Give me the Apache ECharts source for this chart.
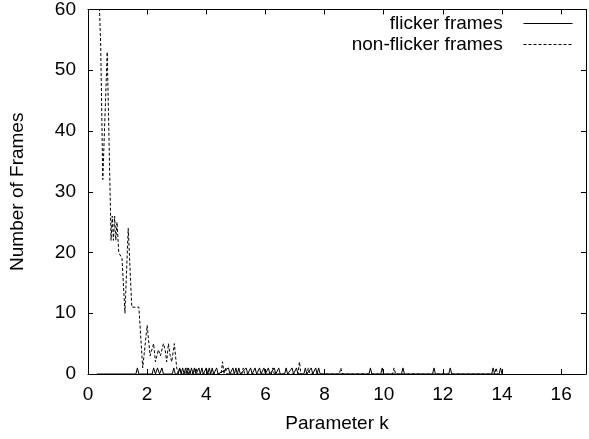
<!DOCTYPE html>
<html>
<head>
<meta charset="utf-8">
<script src="https://cdn.jsdelivr.net/npm/echarts@6/dist/echarts.min.js"></script>
<style>
    html, body { margin: 0; padding: 0; background: #fff; }
    #main { width: 589px; height: 439px; }
</style>
</head>
<body>
<div id="main"></div>
<script>
    // [k, number of frames]
    var nonFlicker = [
        [0.35, 66], [0.43, 54], [0.50, 32], [0.65, 53], [0.78, 22], [0.82, 26], [0.86, 22],
        [0.90, 26], [0.94, 22], [0.98, 25], [1.04, 20], [1.15, 19], [1.25, 10], [1.36, 24],
        [1.48, 11], [1.72, 11], [1.85, 1], [2.00, 8], [2.10, 3], [2.22, 5], [2.28, 2],
        [2.38, 4], [2.45, 3], [2.55, 5], [2.61, 4], [2.66, 2], [2.72, 5], [2.78, 3],
        [2.83, 2], [2.92, 5], [3.00, 1], [3.05, 0], [3.10, 1], [3.15, 0], [3.30, 0],
        [3.35, 1], [3.40, 0], [3.60, 0], [3.65, 1], [3.70, 0], [4.50, 0], [4.55, 2],
        [4.60, 0], [4.65, 1], [4.70, 0], [5.20, 0], [5.25, 1], [5.30, 0], [6.20, 0],
        [6.25, 1], [6.30, 0], [7.10, 0], [7.15, 2], [7.20, 0], [7.40, 0], [7.45, 1],
        [7.50, 0], [8.50, 0], [8.55, 1], [8.60, 0], [10.30, 0], [10.35, 1], [10.40, 0],
        [13.75, 0], [13.80, 1], [13.85, 0]
    ];
    var flicker = [
        [0.30, 0], [1.62, 0], [1.67, 1], [1.72, 0], [2.17, 0], [2.22, 1], [2.28, 0],
        [2.35, 1], [2.42, 0], [2.50, 1], [2.55, 0], [2.85, 0], [2.90, 1], [2.95, 0],
        [3.05, 0], [3.10, 1], [3.15, 0], [3.20, 1], [3.25, 0], [3.30, 1], [3.35, 0],
        [3.40, 1], [3.45, 0], [3.50, 1], [3.55, 0], [3.60, 1], [3.65, 0], [3.75, 1],
        [3.80, 0], [3.85, 1], [3.90, 0], [4.00, 1], [4.05, 0], [4.10, 1], [4.15, 0],
        [4.20, 1], [4.25, 0], [4.35, 1], [4.40, 0], [4.75, 1], [4.80, 0], [4.90, 1],
        [4.95, 0], [5.00, 1], [5.05, 0], [5.10, 1], [5.15, 0], [5.35, 1], [5.40, 0],
        [5.50, 1], [5.55, 0], [5.65, 1], [5.70, 0], [5.80, 1], [5.85, 0], [5.95, 1],
        [6.00, 0], [6.10, 1], [6.15, 0], [6.30, 1], [6.35, 0], [6.45, 1], [6.50, 0],
        [6.65, 0], [6.70, 1], [6.75, 0], [6.90, 1], [6.95, 0], [7.05, 1], [7.10, 0],
        [7.30, 0], [7.35, 1], [7.40, 0], [7.55, 1], [7.60, 0], [7.70, 1], [7.75, 0],
        [7.80, 1], [7.85, 0], [9.50, 0], [9.55, 1], [9.60, 0], [9.90, 0], [9.95, 1],
        [10.00, 0], [10.60, 0], [10.65, 1], [10.70, 0], [11.65, 0], [11.70, 1], [11.75, 0],
        [12.20, 0], [12.25, 1], [12.30, 0], [13.65, 0], [13.70, 1], [13.75, 0], [13.90, 0],
        [13.95, 1], [14.00, 0]
    ];
    var seriesNames = ['flicker frames', 'non-flicker frames'];
    var xRange = [0, 16.84];
    var yRange = [0, 60];

    var font = 'Liberation Sans, Arial, Helvetica, sans-serif';
    var chart = echarts.init(document.getElementById('main'));

    function xAxisBase(pos) {
        return {
            type: 'value',
            position: pos,
            min: xRange[0],
            max: xRange[1],
            interval: 2,
            splitLine: { show: false },
            axisLine: { show: true, onZero: false, lineStyle: { color: '#000', width: 1 } },
            axisTick: { show: true, inside: true, length: 5, lineStyle: { color: '#000' } },
            axisLabel: {
                show: pos === 'bottom',
                color: '#000', fontFamily: font, fontSize: 19, margin: 11,
                formatter: function (v) { return v % 2 === 0 ? String(v) : ''; }
            }
        };
    }
    function yAxisBase(pos) {
        return {
            type: 'value',
            position: pos,
            min: yRange[0],
            max: yRange[1],
            interval: 10,
            splitLine: { show: false },
            axisLine: { show: true, onZero: false, lineStyle: { color: '#000', width: 1 } },
            axisTick: { show: true, inside: true, length: 5, lineStyle: { color: '#000' } },
            axisLabel: { show: pos === 'left', color: '#000', fontFamily: font, fontSize: 19, margin: 12 }
        };
    }

    var xBottom = xAxisBase('bottom');
    xBottom.name = 'Parameter k';
    xBottom.nameLocation = 'middle';
    xBottom.nameGap = 40;
    xBottom.nameTextStyle = { color: '#000', fontFamily: font, fontSize: 19 };

    var yLeft = yAxisBase('left');
    yLeft.name = 'Number of Frames';
    yLeft.nameLocation = 'middle';
    yLeft.nameGap = 61;
    yLeft.nameTextStyle = { color: '#000', fontFamily: font, fontSize: 19 };

    function legendFor(name, top) {
        return {
            data: [name], right: 11, top: top, align: 'right',
            itemWidth: 49, itemHeight: 10,
            itemStyle: { opacity: 0 },
            lineStyle: { width: 1 },
            formatter: function (n) { return n + '\u00a0\u00a0\u00a0'; },
            textStyle: { color: '#000', fontFamily: font, fontSize: 19 }
        };
    }

    var option = {
        animation: false,
        backgroundColor: '#fff',
        grid: { left: 88, right: 1, top: 8, bottom: 65 },
        legend: [legendFor(seriesNames[0], 9), legendFor(seriesNames[1], 30)],
        xAxis: [xBottom, xAxisBase('top')],
        yAxis: [yLeft, yAxisBase('right')],
        series: [
            {
                name: seriesNames[0],
                type: 'line',
                data: flicker,
                symbol: 'none',
                itemStyle: { color: '#000' },
                lineStyle: { color: '#000', width: 1, type: 'solid' }
            },
            {
                name: seriesNames[1],
                type: 'line',
                data: nonFlicker,
                symbol: 'none',
                itemStyle: { color: '#000' },
                lineStyle: { color: '#000', width: 1, type: [3, 2] }
            }
        ]
    };
    chart.setOption(option);
</script>
</body>
</html>
